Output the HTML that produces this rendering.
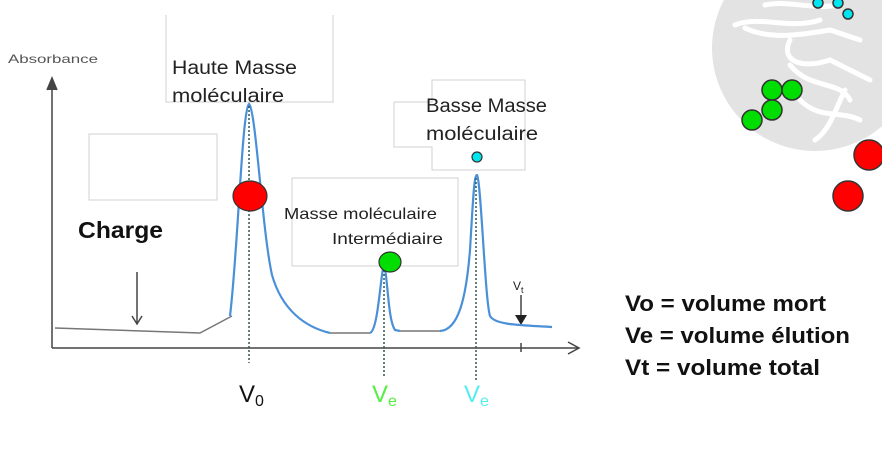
<!DOCTYPE html>
<html><head><meta charset="utf-8"><style>
html,body{margin:0;padding:0;background:#fff;}
svg{display:block;}
text{font-family:"Liberation Sans",sans-serif;}
</style></head><body>
<svg width="882" height="466" viewBox="0 0 882 466" xmlns="http://www.w3.org/2000/svg">
<circle cx="815" cy="48" r="103" fill="#e3e3e3"/>
<path d="M735 25 C760 15 790 30 820 20 M745 28 C770 40 800 35 830 30 L860 40 M790 40 C780 60 800 70 830 60 L870 80 M790 65 C810 90 840 80 850 100 M800 100 C820 120 840 110 860 120 M845 90 C835 110 830 130 815 140 M765 5 C790 0 810 10 840 5" stroke="#fff" stroke-width="5" fill="none" stroke-linecap="round"/>
<g stroke="#333" stroke-width="1.5">
<circle cx="818" cy="3" r="5" fill="#00e5ee"/>
<circle cx="838" cy="3" r="5" fill="#00e5ee"/>
<circle cx="848" cy="14" r="5" fill="#00e5ee"/>
<circle cx="772" cy="90" r="10" fill="#00dd00"/>
<circle cx="792" cy="90" r="10" fill="#00dd00"/>
<circle cx="772" cy="110" r="10" fill="#00dd00"/>
<circle cx="752" cy="120" r="10" fill="#00dd00"/>
<circle cx="869" cy="155" r="15" fill="#ff0000"/>
<circle cx="848" cy="196" r="15" fill="#ff0000"/>
</g>
<g fill="none" stroke="#d0d0d0" stroke-width="1">
<path d="M166 15 V102 H333 V15"/>
<rect x="89" y="134" width="128" height="66"/>
<rect x="292" y="178" width="166" height="88"/>
<path d="M432 102 V80 H525 V170 H432 V147 H394 V102 Z"/>
</g>
<g lengthAdjust="spacingAndGlyphs">
<text x="172" y="74" font-size="19" fill="#222" textLength="125" lengthAdjust="spacingAndGlyphs">Haute Masse</text>
<text x="172" y="102" font-size="19" fill="#222" textLength="112" lengthAdjust="spacingAndGlyphs">moléculaire</text>
<text x="426" y="112" font-size="19" fill="#222" textLength="121" lengthAdjust="spacingAndGlyphs">Basse Masse</text>
<text x="426" y="140" font-size="19" fill="#222" textLength="112" lengthAdjust="spacingAndGlyphs">moléculaire</text>
<text x="284" y="219" font-size="16" fill="#222" textLength="153" lengthAdjust="spacingAndGlyphs">Masse moléculaire</text>
<text x="332" y="244" font-size="16" fill="#222" textLength="111" lengthAdjust="spacingAndGlyphs">Intermédiaire</text>
<text x="8" y="63" font-size="12" fill="#555" textLength="90" lengthAdjust="spacingAndGlyphs">Absorbance</text>
<text x="78" y="238" font-size="23" font-weight="bold" fill="#111" textLength="85" lengthAdjust="spacingAndGlyphs">Charge</text>
</g>
<g stroke="#444" stroke-width="1.5" fill="none">
<line x1="52" y1="348" x2="52" y2="80"/>
<path d="M47 90 L52 78 L57 90" fill="#444"/>
<line x1="52" y1="348" x2="578" y2="348"/>
<path d="M568 342 L579 348 L568 354"/>
<line x1="521" y1="343" x2="521" y2="352"/>
<line x1="137" y1="272" x2="137" y2="323"/>
<path d="M132 316 L137 324 L142 316"/>
<line x1="521" y1="295" x2="521" y2="320"/>
</g>
<path d="M515 315 L521 325 L527 315 Z" fill="#222"/>
<text x="513" y="290" font-size="12" fill="#222">V<tspan font-size="9" dy="3">t</tspan></text>
<g stroke="#777" stroke-width="1.5" fill="none">
<path d="M55 328 L200 333 L232 316"/>
<path d="M330 333 L370 333"/>
<path d="M400 331 L440 331"/>
</g>
<path d="M230 316 C238 250 242 110 249 104 C256 110 262 230 272 275 C282 310 305 327 330 333 M370 333 C378 330 380 280 384 263 C388 280 388 320 395 330 L400 331 M440 331 C458 330 466 300 470 250 C473 200 474 175 477 175 C481 180 485 300 490 316 C495 325 520 325 552 327" stroke="#4a90d9" stroke-width="2.2" fill="none"/>
<g stroke="#2a5a50" stroke-width="1.5" stroke-dasharray="2,2">
<line x1="249" y1="106" x2="249" y2="363"/>
<line x1="384" y1="270" x2="384" y2="376"/>
<line x1="476" y1="178" x2="476" y2="380"/>
</g>
<g stroke="#333" stroke-width="1.2">
<ellipse cx="250" cy="196" rx="17" ry="15" fill="#ff0000"/>
<ellipse cx="390" cy="262" rx="11" ry="10" fill="#00dd00"/>
<circle cx="477" cy="157" r="5" fill="#00e5ee"/>
</g>
<text x="239" y="402" font-size="24" fill="#111">V<tspan font-size="16" dy="4">0</tspan></text>
<text x="372" y="402" font-size="24" fill="#55ee44">V<tspan font-size="16" dy="4">e</tspan></text>
<text x="464" y="402" font-size="24" fill="#55eeee">V<tspan font-size="16" dy="4">e</tspan></text>
<g font-size="22" font-weight="bold" fill="#111">
<text x="625" y="311" textLength="201" lengthAdjust="spacingAndGlyphs">Vo = volume mort</text>
<text x="625" y="343" textLength="225" lengthAdjust="spacingAndGlyphs">Ve = volume élution</text>
<text x="625" y="375" textLength="195" lengthAdjust="spacingAndGlyphs">Vt = volume total</text>
</g>
</svg>
</body></html>
